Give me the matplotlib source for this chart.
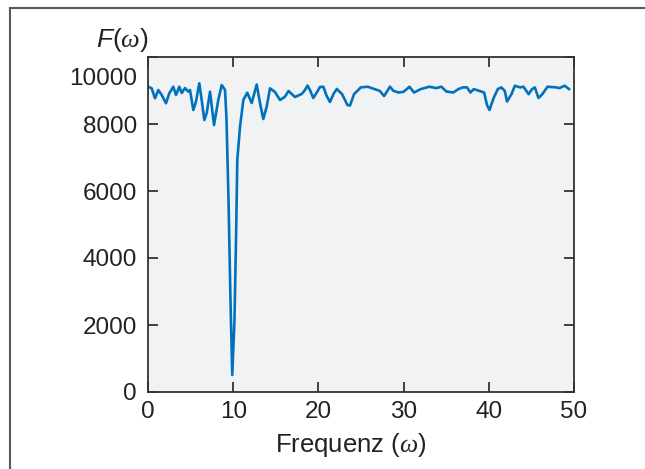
import matplotlib.pyplot as plt
from matplotlib.patches import Rectangle
from matplotlib.transforms import ScaledTranslation

plt.rcParams['font.family'] = ['Liberation Sans', 'DejaVu Sans']
plt.rcParams['mathtext.fontset'] = 'custom'
plt.rcParams['mathtext.rm'] = 'Liberation Sans'
plt.rcParams['mathtext.it'] = 'Liberation Serif:italic'
plt.rcParams['mathtext.sf'] = 'Liberation Sans:italic'

# values
freq = [0.0, 0.43, 0.82, 1.21, 1.61, 2.11, 2.50, 2.97, 3.29, 3.67, 3.96, 4.34,
        4.73, 4.93, 5.32, 5.63, 6.02, 6.30, 6.61, 6.89, 7.28, 7.75, 8.25, 8.65,
        9.04, 9.21, 9.45, 9.68, 9.89, 10.15, 10.33, 10.48, 10.80, 11.19, 11.65,
        12.17, 12.76, 13.15, 13.53, 13.93, 14.32, 14.91, 15.49, 16.08, 16.49,
        17.25, 18.04, 18.43, 18.72, 19.01, 19.40, 19.84, 20.19, 20.58, 20.97,
        21.36, 21.77, 22.16, 22.77, 23.12, 23.40, 23.71, 24.18, 24.98, 25.79,
        26.58, 27.19, 27.71, 28.40, 28.80, 29.40, 30.00, 30.69, 31.22, 32.02,
        33.02, 33.83, 34.43, 35.02, 35.83, 36.43, 36.96, 37.44, 37.84, 38.24,
        38.85, 39.45, 39.79, 40.08, 40.58, 41.06, 41.46, 41.87, 42.14, 42.66,
        43.06, 43.67, 44.07, 44.67, 45.08, 45.40, 45.83, 46.28, 46.89, 47.89,
        48.30, 48.90, 49.41]
F = [9114, 9066, 8767, 9015, 8866, 8618, 8916, 9113, 8866, 9113, 8925, 9075,
     8964, 9015, 8418, 8666, 9215, 8716, 8119, 8328, 8964, 7970, 8716, 9164,
     9015, 8180, 5731, 2746, 507, 2150, 4537, 6925, 7919, 8716, 8934,
     8627, 9179, 8618, 8149, 8516, 9066, 8955, 8716, 8815, 8985,
     8806, 8896, 9015, 9149, 9015, 8776, 8955, 9104, 9113, 8836,
     8657, 8896, 9045, 8896, 8716, 8567, 8552, 8890, 9093, 9113,
     9042, 8991, 8836, 9113, 8991, 8940, 8961, 9113, 8940, 9042,
     9113, 9072, 9113, 8970, 8940, 9042, 9093, 9093, 8940, 9042,
     8991, 8940, 8567, 8418, 8785, 9042, 9093, 8991, 8672, 8890,
     9143, 9093, 9113, 8890, 9042, 9093, 8776, 8890, 9113, 9093,
     9072, 9143, 9045]

xticks = [0, 10, 20, 30, 40, 50]
yticks = [0, 2000, 4000, 6000, 8000, 10000]

fig = plt.figure(figsize=(6.45, 4.69), dpi=100)
ax = fig.add_axes([148/645, 1 - 392/469, (574 - 148)/645, (392 - 57)/469])
ax.set_facecolor('#f0f2f4')

ax.plot(freq, F, color='#0072bd', lw=1.9)
ax.set_xlim(0, 50)
ax.set_ylim(0, 10000)
ax.set_xticks(xticks)
ax.set_yticks(yticks)
ax.tick_params(direction='in', length=7, width=1.2, colors='#222222',
               labelsize=17.5, top=True, right=True)
ax.tick_params(axis='x', pad=6.5)
ax.tick_params(axis='y', pad=8)
for s in ax.spines.values():
    s.set_color('#333333')
    s.set_linewidth(1.3)

# the 10000 label sits a bit below the top edge in the reference
top_lab = ax.get_yticklabels()[-1]
top_lab.set_transform(top_lab.get_transform() +
                      ScaledTranslation(0, -0.19, fig.dpi_scale_trans))

ax.set_xlabel(r'Frequenz ($\omega$)', fontsize=18.5, color='#222222', labelpad=1)
ax.xaxis.set_label_coords(0.477, -0.115)
fig.text(96/645, 1 - 40/469, r'$\mathsf{F}(\omega)$', fontsize=19, color='#222222',
         va='center', ha='left')

# outer frame
fig.add_artist(Rectangle((10/645, -0.1), 1.2, 1.1 - 8/469, transform=fig.transFigure,
                         fill=False, edgecolor='#5a5a5a', lw=1.5, clip_on=False))

fig.savefig('out.png', dpi=100)
